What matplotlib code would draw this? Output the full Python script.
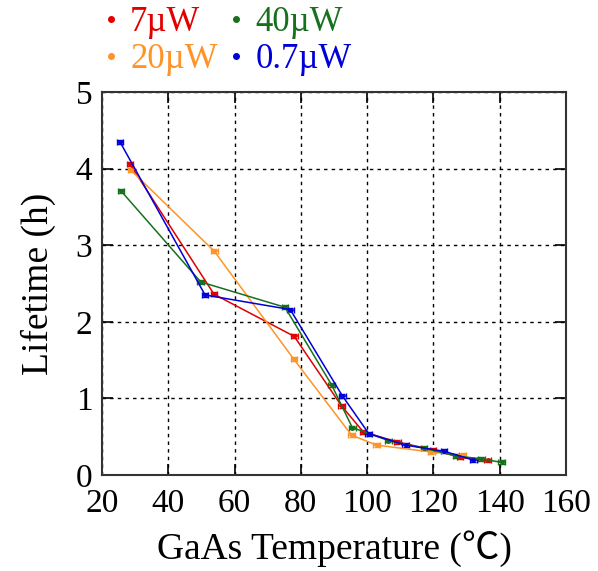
import matplotlib
matplotlib.use("Agg")
import matplotlib.pyplot as plt
from matplotlib.lines import Line2D

plt.rcParams['font.family'] = ['Liberation Serif', 'Noto Sans CJK SC', 'DejaVu Sans']
plt.rcParams['mathtext.fontset'] = 'stix'

labels = ['7\u00b5W', '20\u00b5W', '40\u00b5W', '0.7\u00b5W']
colors = ['#e00000', '#ff9326', '#18701e', '#0000d8']

x_7 = [28.4, 53.8, 78.0, 92.3, 98.8, 109.1, 119.9, 128.0, 136.4]
y_7 = [4.06, 2.36, 1.81, 0.90, 0.565, 0.43, 0.33, 0.23, 0.19]
x_20 = [28.7, 53.9, 77.9, 95.3, 102.9, 119.4, 128.8]
y_20 = [3.98, 2.92, 1.51, 0.52, 0.39, 0.30, 0.26]
x_40 = [25.7, 49.8, 75.2, 89.3, 95.5, 106.4, 117.1, 126.8, 134.5, 140.6]
y_40 = [3.71, 2.52, 2.19, 1.175, 0.62, 0.45, 0.35, 0.25, 0.21, 0.165]
x_07 = [25.4, 51.1, 76.8, 92.5, 100.5, 111.6, 123.2, 132.0]
y_07 = [4.35, 2.35, 2.16, 1.035, 0.54, 0.39, 0.31, 0.196]

xs = [x_7, x_20, x_40, x_07]
ys = [y_7, y_20, y_40, y_07]

xticks = [20, 40, 60, 80, 100, 120, 140, 160]
yticks = [0, 1, 2, 3, 4, 5]

fig = plt.figure(figsize=(5.98, 5.71), dpi=100)
ax = fig.add_axes([0.1706, 0.1681, 0.9465 - 0.1706, 0.8389 - 0.1681])

for x, y, c in zip(xs, ys, colors):
    ax.errorbar(x, y, xerr=1.0, yerr=0.025, color=c, lw=1.1, marker='o',
                ms=2.5, capsize=2, elinewidth=1.2, capthick=1.0, zorder=3)

ax.set_xlim(20, 160)
ax.set_ylim(0, 5)
ax.set_xticks(xticks)
ax.set_yticks(yticks)
ax.grid(True, color='black', linestyle=(0, (2.5, 3)), linewidth=1.0)
ax.tick_params(direction='in', length=8, width=1.2, top=True, right=True,
               labelsize=24, colors='black')
ax.tick_params(axis='x', pad=10)
ax.tick_params(axis='y', pad=7)
for s in ax.spines.values():
    s.set_color('#333333')
    s.set_linewidth(1.5)

ax.set_xlabel('GaAs Temperature (\u2103)', fontsize=27, labelpad=8)
ax.set_ylabel('Lifetime (h)', fontsize=27, labelpad=14)

handles = [Line2D([], [], color=c, marker='o', ls='none', ms=4) for c in colors]
leg = fig.legend(handles, labels, loc='upper left', bbox_to_anchor=(0.171, 0.9895),
                 ncol=2, frameon=False, fontsize=25, handletextpad=0.3,
                 columnspacing=0.29, handlelength=0.5, labelspacing=0.12,
                 borderpad=0, borderaxespad=0,
                 labelcolor='markerfacecolor')

fig.savefig('out.png', dpi=100)
